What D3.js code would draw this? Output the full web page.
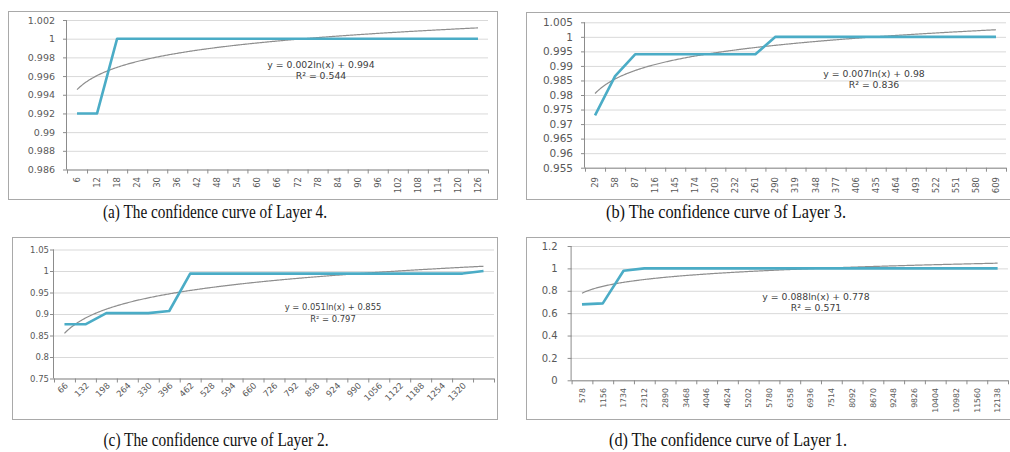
<!DOCTYPE html>
<html><head><meta charset="utf-8">
<script src="https://cdn.jsdelivr.net/npm/d3@7/dist/d3.min.js"></script>
<style>body{margin:0;background:#fff}svg{display:block}</style>
</head><body>
<svg id="chart" width="1010" height="452"></svg>
<script>
// ---------- data ----------
const catsA = [6,12,18,24,30,36,42,48,54,60,66,72,78,84,90,96,102,108,114,120,126];
const valsA = [0.992,0.992,1,1,1,1,1,1,1,1,1,1,1,1,1,1,1,1,1,1,1];
const yTicksA = [0.986,0.988,0.99,0.992,0.994,0.996,0.998,1,1.002];
const xLabelsA = ["6","12","18","24","30","36","42","48","54","60","66","72","78","84","90","96","102","108","114","120","126"];

const catsB = [29,58,87,116,145,174,203,232,261,290,319,348,377,406,435,464,493,522,551,580,609];
const valsB = [0.973,0.9865,0.994,0.994,0.994,0.994,0.994,0.994,0.994,1,1,1,1,1,1,1,1,1,1,1,1];
const yTicksB = [0.955,0.96,0.965,0.97,0.975,0.98,0.985,0.99,0.995,1,1.005];
const xLabelsB = ["29","58","87","116","145","174","203","232","261","290","319","348","377","406","435","464","493","522","551","580","609"];

const catsC = [66,132,198,264,330,396,462,528,594,660,726,792,858,924,990,1056,1122,1188,1254,1320,1386];
const valsC = [0.876,0.876,0.902,0.902,0.902,0.907,0.994,0.994,0.994,0.994,0.994,0.994,0.994,0.994,0.994,0.994,0.994,0.994,0.994,0.994,1];
const yTicksC = [0.75,0.8,0.85,0.9,0.95,1,1.05];
const xLabelsC = ["66","132","198","264","330","396","462","528","594","660","726","792","858","924","990","1056","1122","1188","1254","1320"];

const catsD = [578,1156,1734,2312,2890,3468,4046,4624,5202,5780,6358,6936,7514,8092,8670,9248,9826,10404,10982,11560,12138];
const valsD = [0.678,0.687,0.979,1,1,1,1,1,1,1,1,1,1,1,1,1,1,1,1,1,1];
const yTicksD = [0,0.2,0.4,0.6,0.8,1,1.2];
const xLabelsD = ["578","1156","1734","2312","2890","3468","4046","4624","5202","5780","6358","6936","7514","8092","8670","9248","9826","10404","10982","11560","12138"];

const eqA = ["y = 0.002ln(x) + 0.994", "R² = 0.544"];
const eqB = ["y = 0.007ln(x) + 0.98", "R² = 0.836"];
const eqC = ["y = 0.051ln(x) + 0.855", "R² = 0.797"];
const eqD = ["y = 0.088ln(x) + 0.778", "R² = 0.571"];

const captions = ["(a) The confidence curve of Layer 4.", "(b) The confidence curve of Layer 3.",
                  "(c) The confidence curve of Layer 2.", "(d) The confidence curve of Layer 1."];

// ---------- layout ----------
const panels = [
  {cats:catsA, vals:valsA, yTicks:yTicksA, xLabels:xLabelsA, eq:eqA, cap:captions[0],
   box:[8,11,489,188], l:67, r:488, t:20, b:169.5, rot:-90, xlFont:8.5, xlTop:177,
   ylFont:9.5, ylGap:12, eqX:321, eqY:[68,79], eqFont:9.3, capX:215, capY:218, capW:224},
  {cats:catsB, vals:valsB, yTicks:yTicksB, xLabels:xLabelsB, eq:eqB, cap:captions[1],
   box:[526,12,490,187], l:585, r:1006, t:22.3, b:167.7, rot:-90, xlFont:8.5, xlTop:177,
   ylFont:10.5, ylGap:12, eqX:874, eqY:[77,88], eqFont:9.3, capX:726, capY:218, capW:240},
  {cats:catsC, vals:valsC, yTicks:yTicksC, xLabels:xLabelsC, eq:eqC, cap:captions[2],
   box:[12,237,485,182], l:54, r:494, t:249.5, b:378.5, rot:-45, xlFont:8.5, xlTop:384,
   ylFont:8.5, ylGap:5, eqX:333, eqY:[309.5,322], eqFont:8.4, capX:216, capY:446, capW:225},
  {cats:catsD, vals:valsD, yTicks:yTicksD, xLabels:xLabelsD, eq:eqD, cap:captions[3],
   box:[526,237,490,182], l:571.6, r:1008, t:246, b:380.3, rot:-90, xlFont:7.8, xlTop:388,
   ylFont:10, ylGap:14, eqX:816, eqY:[299.5,310.5], eqFont:9.3, capX:728, capY:446, capW:238}
];

const svg = d3.select("#chart");
const tickFmt = v => String(+v.toFixed(4));

function logFit(vals){
  const lx = vals.map((_, i) => Math.log(i + 1));
  const mx = d3.mean(lx), my = d3.mean(vals);
  let sxy = 0, sxx = 0;
  lx.forEach((x, i) => { sxy += (x - mx) * (vals[i] - my); sxx += (x - mx) * (x - mx); });
  const b = sxy / sxx;
  return {a: my - b * mx, b};
}

panels.forEach(p => {
  const g = svg.append("g");
  g.append("rect").attr("x", p.box[0] + 0.5).attr("y", p.box[1] + 0.5)
    .attr("width", p.box[2]).attr("height", p.box[3])
    .attr("fill", "#fff").attr("stroke", "#a9a9a9").attr("stroke-width", 1);

  const n = p.cats.length;
  const x = d3.scaleBand().domain(d3.range(n)).range([p.l, p.r]).padding(0);
  const xb = d3.scaleLinear().domain([0, n]).range([p.l, p.r]);
  const step = x.bandwidth();
  const cx = i => x(i) + step / 2;
  const y = d3.scaleLinear().domain([p.yTicks[0], p.yTicks[p.yTicks.length - 1]]).range([p.b, p.t]);

  const grid = g.append("g").attr("transform", `translate(${p.l},0)`)
    .call(d3.axisLeft(y).tickValues(p.yTicks).tickSize(-(p.r - p.l)).tickFormat(""));
  grid.select(".domain").remove();
  grid.selectAll("line").attr("stroke", "#d9d9d9").attr("stroke-width", 1);

  const ya = g.append("g").attr("transform", `translate(${p.l},0)`)
    .call(d3.axisLeft(y).tickValues(p.yTicks).tickSize(4).tickPadding(p.ylGap - 4).tickFormat(tickFmt));
  ya.select(".domain").attr("stroke", "#8c8c8c").attr("d", `M-0.5,${p.b}V${p.t}`);
  ya.selectAll("line").attr("stroke", "#8c8c8c");
  ya.selectAll("text").attr("fill", "#595959").style("font-family", "'DejaVu Sans', sans-serif")
    .style("font-size", p.ylFont + "px");

  const xa = g.append("g").attr("transform", `translate(0,${p.b})`)
    .call(d3.axisBottom(xb).tickValues(d3.range(n + 1)).tickSize(4).tickFormat(""));
  xa.select(".domain").attr("stroke", "#8c8c8c").attr("d", `M${p.l},0.5H${p.r}`);
  xa.selectAll("line").attr("stroke", "#8c8c8c");

  g.append("g").selectAll("text").data(p.xLabels).join("text")
    .attr("transform", (d, i) => p.rot === -90
        ? `translate(${cx(i)},${p.xlTop}) rotate(-90)`
        : `translate(${cx(i) + 2},${p.xlTop}) rotate(-45)`)
    .attr("text-anchor", "end")
    .attr("dy", "0.35em")
    .attr("fill", "#595959")
    .style("font-family", "'DejaVu Sans', sans-serif")
    .style("font-size", p.xlFont + "px")
    .text(d => d);

  const fit = logFit(p.vals);
  const ts = d3.range(1, n + 1e-9, 0.05).concat([n]);
  g.append("path")
    .attr("d", d3.line().x(t => cx(0) + (t - 1) * step).y(t => y(fit.a + fit.b * Math.log(t)))(ts))
    .attr("fill", "none").attr("stroke", "#8e8e8e").attr("stroke-width", 1.2);

  g.append("path")
    .attr("d", d3.line().x((d, i) => cx(i)).y(d => y(d))(p.vals))
    .attr("fill", "none").attr("stroke", "#4bacc6").attr("stroke-width", 2.6)
    .attr("stroke-linejoin", "round");

  g.append("g").selectAll("text").data(p.eq).join("text")
    .attr("x", p.eqX).attr("y", (d, i) => p.eqY[i])
    .attr("text-anchor", "middle").attr("fill", "#404040")
    .style("font-family", "'DejaVu Sans', sans-serif").style("font-size", p.eqFont + "px")
    .text(d => d);

  svg.append("text").attr("x", p.capX).attr("y", p.capY).attr("text-anchor", "middle")
    .attr("textLength", p.capW).attr("lengthAdjust", "spacingAndGlyphs")
    .style("font-family", "'Liberation Serif', 'Times New Roman', serif").style("font-size", "19px")
    .attr("fill", "#111").text(p.cap);
});
</script>
</body></html>
